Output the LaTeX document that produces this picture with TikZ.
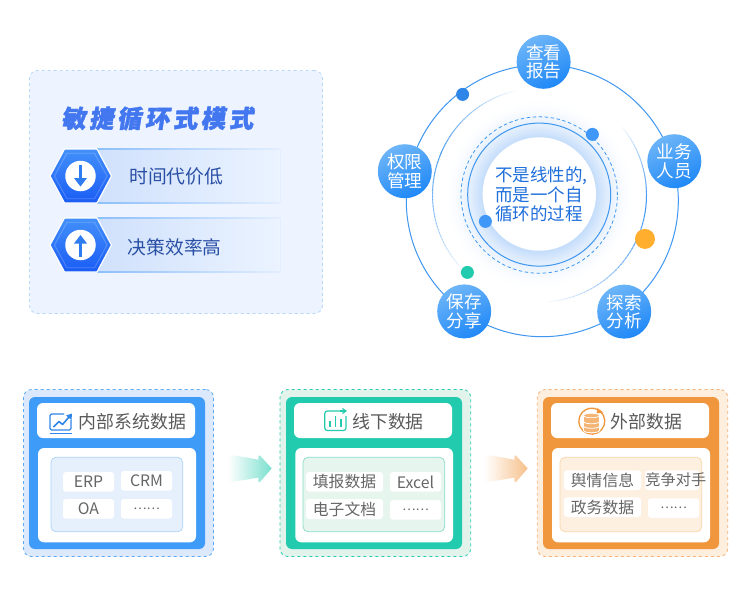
\documentclass[tikz,border=0pt]{standalone}
\usepackage{fontspec}
\setmainfont{Noto Sans CJK SC}
\newfontfamily\titlefont[FakeSlant=0.16,FakeBold=1.7,LetterSpace=14]{Noto Sans CJK SC}
\usetikzlibrary{calc,arrows.meta}
\definecolor{pnlfill}{HTML}{EEF4FF}
\definecolor{pnledge}{HTML}{B5D8FB}
\definecolor{ttl}{HTML}{4377F0}
\definecolor{rowtext}{HTML}{2A50A5}
\definecolor{ringc}{HTML}{3F97F0}
\definecolor{dotblue}{HTML}{3F97F8}
\definecolor{dotdark}{HTML}{2E86E8}
\definecolor{dotor}{HTML}{FFAE2E}
\definecolor{dotgr}{HTML}{22CBAE}
\definecolor{midtext}{HTML}{1F6FDB}
\definecolor{graytxt}{HTML}{5A5A5A}
\definecolor{celltxt}{HTML}{666666}
\definecolor{gA}{HTML}{DCE9FD}\definecolor{gB}{HTML}{5BA8F5}\definecolor{gC}{HTML}{3F9BF8}\definecolor{gD}{HTML}{E6F0FD}\definecolor{gE}{HTML}{A9D2F8}
\definecolor{tA}{HTML}{E2F3EC}\definecolor{tB}{HTML}{26CDAE}\definecolor{tC}{HTML}{22CBAE}\definecolor{tD}{HTML}{E6F5EE}\definecolor{tE}{HTML}{88DCC8}
\definecolor{oA}{HTML}{FDEEDD}\definecolor{oB}{HTML}{F5B27A}\definecolor{oC}{HTML}{F0973E}\definecolor{oD}{HTML}{FDF0E0}\definecolor{oE}{HTML}{FAD5A8}
\definecolor{iconb}{HTML}{2E86E8}
\definecolor{glowA}{HTML}{C6DEFB}
\tikzset{
 pbox/.style={rectangle,inner sep=0pt,outer sep=0pt,rounded corners=#1},
 pbox/.default=6pt,
 cellbox/.style={rectangle,rounded corners=3pt,fill=white,inner sep=0pt,text=celltxt,font=\fontsize{15.8}{15.8}\selectfont},
 stage/.style={circle,minimum size=54pt,inner sep=0pt,text=white,top color=#1,align=center,
   font=\fontsize{17.6}{18.4}\selectfont,bottom color=stagedark,shading angle=25},
 stage/.default=stagelight,
 dotn/.style={circle,inner sep=0pt,minimum size=13pt,fill=dotblue},
 rowlabel/.style={text=rowtext,font=\fontsize{18.8}{18.8}\selectfont,inner sep=0pt},
 headlabel/.style={text=graytxt,font=\fontsize{17.9}{17.9}\selectfont,inner sep=0pt},
}
\definecolor{stagelight}{HTML}{6DB5F8}
\definecolor{stagedark}{HTML}{1F88F7}
\newcommand{\bx}[7]{%
 \pgfmathsetmacro{\bw}{#4-#2}\pgfmathsetmacro{\bh}{#5-#3}%
 \node[minimum width=\bw pt,minimum height=\bh pt,#6] (#1) at ({(#2+#4)/2},{(#3+#5)/2}) {#7};}
\newcommand{\fadearc}[7]{%
 \foreach \k in {0,...,39}{%
  \pgfmathsetmacro{\aa}{#4+(#5-#4)*\k/40}%
  \pgfmathsetmacro{\ab}{#4+(#5-#4)*(\k+1.15)/40}%
  \pgfmathsetmacro{\op}{#6+(#7-#6)*\k/39}%
  \draw[ringc,line width=1pt,opacity=\op] ({#1+#3*cos(\aa)},{#2-#3*sin(\aa)}) -- ({#1+#3*cos((\aa+\ab)/2)},{#2-#3*sin((\aa+\ab)/2)}) -- ({#1+#3*cos(\ab)},{#2-#3*sin(\ab)});
 }}
\newcommand{\hexa}[2]{%
 \path[draw=white,line width=1.2pt,top color=hexlight,bottom color=hexdark,line join=miter]
  (50,#2) -- (64.5,#2-27) -- (97,#2-27) -- (111.5,#2) -- (97,#2+27) -- (64.5,#2+27) -- cycle;
 \draw[white,opacity=.22,line width=.8pt] (54.5,#2) -- (67,#2-22.8) -- (94.5,#2-22.8) -- (107,#2) -- (94.5,#2+22.8) -- (67,#2+22.8) -- cycle;
 \node[circle,fill=white,minimum size=30.5pt,inner sep=0pt] (#1) at (80.5,#2) {};}
\definecolor{hexlight}{HTML}{4390FA}
\definecolor{hexdark}{HTML}{1A5CF5}
\definecolor{hexarrow}{HTML}{2F7BF0}
\definecolor{barleft}{HTML}{D0E1FC}
\definecolor{barright}{HTML}{EBF3FF}
\definecolor{barline}{HTML}{8DBFFA}
\definecolor{barlinee}{HTML}{E3EEFE}
\newcommand{\rowbar}[2]{%
 \path[left color=barleft,right color=barright] (97,#1) rectangle (280,#2);
 \path[left color=barline,right color=barlinee] (97,#1-.3) rectangle (280,#1+.4);
 \path[left color=barline,right color=barlinee] (97,#2-.4) rectangle (280,#2+.3);
 \draw[barlinee,line width=.4pt] (280,#1) -- (280,#2);}
\newcommand{\flowarrow}[2]{%
 \path[left color=white,right color=#2,shift={(#1,0)}]
  (228,455) .. controls (240,456) and (250,458) .. (258.3,459.8) -- (258.3,455.6) -- (260,455.6)
  -- (271.7,468.4) -- (260,482) -- (258.3,482) -- (258.3,477.6)
  .. controls (250,479) and (240,481) .. (228,482) -- cycle;}
\begin{document}
\begin{tikzpicture}[x=1pt,y=-1pt,line cap=butt]
\useasboundingbox (0,0) rectangle (750,598);
\fill[white] (0,0) rectangle (750,598);
% ===== left panel
\bx{modepanel}{29.5}{70.5}{322.5}{313.5}{pbox=8pt,fill=pnlfill,draw=pnledge,dashed,line width=.8pt}{}
\node[inner sep=0pt,anchor=west,text=ttl,font=\titlefont\bfseries\fontsize{24.5}{24.5}\selectfont] (modetitle) at (61,118.5) {敏捷循环式模式};
\rowbar{149}{203}
\rowbar{218}{272}
\hexa{hexa}{176}
\hexa{hexb}{245}
\draw[hexarrow,line width=2.4pt] (80.5,164.5) -- (80.5,182);
\fill[hexarrow] (74,178) -- (87,178) -- (80.5,186.5) -- cycle;
\draw[hexarrow,line width=2.4pt] (80.5,256.5) -- (80.5,240);
\fill[hexarrow] (74,243.5) -- (87,243.5) -- (80.5,235) -- cycle;
\node[rowlabel,anchor=west] (rowa) at (129,176.5) {时间代价低};
\node[rowlabel,anchor=west] (rowb) at (127.5,247) {决策效率高};
% ===== cycle
\foreach \rr in {96,95,...,58}{
 \pgfmathsetmacro{\mixv}{100*pow((96-\rr)/38,1.9)}
 \fill[glowA!\mixv!white] (539.3,194.6) circle (\rr pt);
}
\draw[ringc,line width=1pt] (542.3,200.7) circle (136pt);
\fadearc{539.5}{195}{107}{101}{155}{0}{0.85}
\fadearc{539.5}{195}{107}{155}{228}{0.95}{0}
\fadearc{539.5}{195}{107}{41}{-5}{0}{1}
\fadearc{539.5}{195}{107}{-5}{-88}{1}{0}
\draw[ringc,line width=.8pt,dash pattern=on 3.4pt off 2.6pt] (539.2,195) circle (78.2pt);
\draw[ringc,line width=1pt] (539.2,194.6) circle (71.5pt);
\node[circle,fill=white,minimum size=113.4pt,inner sep=0pt] (core) at (539.3,194) {};
\node[inner sep=0pt,anchor=west,align=left,text=midtext,font=\fontsize{17.5}{19.8}\selectfont] (coretext) at (495,194.5) {不是线性的,\\而是一个自\\循环的过程};
\node[dotn,fill=dotdark] (dota) at (462.6,94.4) {};
\node[dotn] (dotb) at (592.4,134.4) {};
\node[dotn] (dotc) at (485.4,221.4) {};
\node[dotn,minimum size=20pt,fill=dotor] (dotd) at (645,238.9) {};
\node[dotn,fill=dotgr] (dote) at (467.4,272.4) {};
\node[stage] (report) at (543.6,61.8) {查看\\报告};
\node[stage] (users) at (674.3,161.2) {业务\\人员};
\node[stage] (explore) at (624.2,311.6) {探索\\分析};
\node[stage] (save) at (464.2,311.4) {保存\\分享};
\node[stage] (perm) at (404.8,171.2) {权限\\管理};
% ===== panel 1
\bx{aouter}{23.5}{389.5}{213.5}{556.5}{pbox=8pt,fill=gA,draw=gB,dashed,line width=.8pt}{}
\bx{amain}{29}{397}{205}{549}{pbox=6pt,fill=gC}{}
\bx{ahead}{37}{403}{195}{438}{pbox=6pt,fill=white}{}
\bx{abody}{38}{448}{196}{542.3}{pbox=6pt,fill=white}{}
\bx{ainner}{51}{457.3}{182.7}{531.7}{pbox=5pt,fill=gD,draw=gE,line width=.7pt}{}
\bx{erp}{63}{472}{114}{491.7}{cellbox}{ERP}
\bx{crm}{121}{471}{172}{490.7}{cellbox}{CRM}
\bx{oa}{63}{499}{114}{518.7}{cellbox}{OA}
\bx{amore}{121}{499}{172}{518.7}{cellbox,font=\fontsize{12.5}{12.5}\selectfont}{……}
\node[headlabel] (atitle) at (132.3,421.5) {内部系统数据};
\draw[iconb,line width=1.2pt,rounded corners=1.5pt] (64,414) -- (50,414) -- (50,430) -- (71,430) -- (71,420);
\draw[iconb,line width=1.6pt,line join=round] (53.5,427) -- (59,421.5) -- (62.5,424.5) -- (69,417);
\fill[iconb] (66,415.5) -- (72,413.5) -- (71.5,420) -- cycle;
\draw[iconb,line width=1pt] (49.5,433.2) -- (71.5,433.2);
% ===== panel 2
\bx{bouter}{280}{389.5}{470.7}{556.5}{pbox=8pt,fill=tA,draw=tB,dashed,line width=.8pt}{}
\bx{bmain}{286}{397}{462}{549}{pbox=6pt,fill=tC}{}
\bx{bhead}{294}{403}{452}{438}{pbox=6pt,fill=white}{}
\bx{bbody}{295.3}{448}{453}{542.3}{pbox=6pt,fill=white}{}
\bx{binner}{303}{457.3}{444.7}{531.7}{pbox=5pt,fill=tD,draw=tE,line width=.7pt}{}
\bx{fill}{306}{472}{383}{491.7}{cellbox}{填报数据}
\bx{excel}{390}{472}{441}{491.7}{cellbox}{Excel}
\bx{edoc}{306}{499}{383}{519}{cellbox}{电子文档}
\bx{bmore}{390}{500}{441}{519.7}{cellbox,font=\fontsize{12.5}{12.5}\selectfont}{……}
\node[headlabel] (btitle) at (388,421.5) {线下数据};
\draw[tC,line width=1.2pt,rounded corners=2.5pt] (340,411) -- (324.8,411) -- (324.8,430.5) -- (346,430.5) -- (346,416);
\draw[tC,line width=1.1pt] (340,411) -- (345.5,411);
\draw[tC,line width=1.1pt,line join=miter] (342.5,408.5) -- (346,411) -- (342.5,413.5);
\draw[tC,line width=1.8pt] (330,427) -- (330,421);
\draw[tC,line width=1.8pt] (335.5,427) -- (335.5,415.5);
\draw[tC,line width=1.8pt] (341,427) -- (341,419);
% ===== panel 3
\bx{couter}{537.3}{389.5}{727.7}{556.5}{pbox=8pt,fill=oA,draw=oB,dashed,line width=.8pt}{}
\bx{cmain}{543}{397}{719}{549}{pbox=6pt,fill=oC}{}
\bx{chead}{551}{403}{709}{438}{pbox=6pt,fill=white}{}
\bx{cbody}{552}{448}{710}{542.3}{pbox=6pt,fill=white}{}
\bx{cinner}{560}{457.3}{701.7}{531.7}{pbox=5pt,fill=oD,draw=oE,line width=.7pt}{}
\bx{opinion}{564}{470.3}{641}{490}{cellbox}{舆情信息}
\bx{rivals}{645.3}{470.3}{699}{490}{cellbox}{}
\node[inner sep=0pt,text=celltxt,font=\fontsize{15.2}{15.2}\selectfont] (rivalstext) at (675.8,480) {竞争对手};
\bx{gov}{564}{497.3}{641}{517}{cellbox}{政务数据}
\bx{cmore}{648}{498.3}{699}{518}{cellbox,font=\fontsize{12.5}{12.5}\selectfont}{……}
\node[headlabel] (ctitle) at (646.7,421.5) {外部数据};
\draw[oC,line width=1.3pt] (600.5,411.5) arc (48:-300:13pt);
\fill[oC] (597.5,408) -- (603.5,412.5) -- (596.5,413.5) -- cycle;
\foreach \yy in {424.5,420,415.5}{
 \fill[oC!72!white,draw=white,line width=.8pt] (583.5,\yy) -- (583.5,\yy+6) .. controls (584,\yy+9) and (599,\yy+9) .. (599.5,\yy+6) -- (599.5,\yy) .. controls (599,\yy-3) and (584,\yy-3) .. (583.5,\yy) -- cycle;
}
\draw[white,line width=.7pt] (583.5,415.5) .. controls (584,418.5) and (599,418.5) .. (599.5,415.5);
% ===== flow arrows
\flowarrow{0}{tC!60!white}
\flowarrow{256}{oC!60!white}
\end{tikzpicture}
\end{document}
